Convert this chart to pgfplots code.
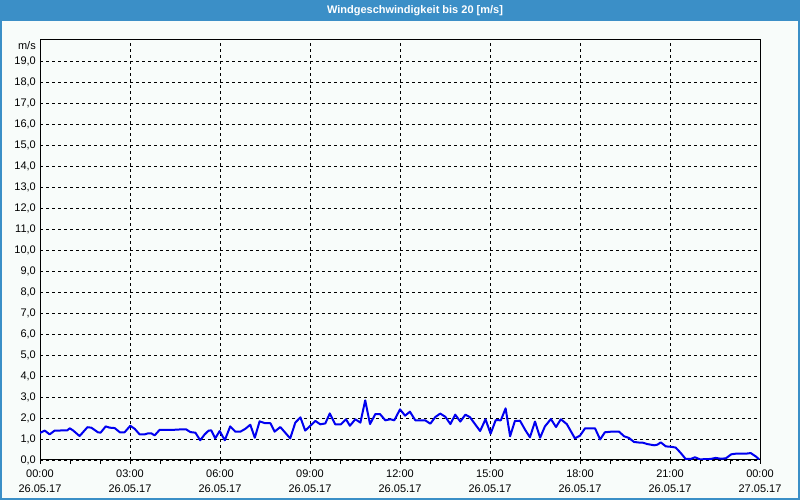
\documentclass[border=0pt]{standalone}
\usepackage{fontspec}
\setmainfont{Liberation Sans}
\usepackage{pgfplots}
\pgfplotsset{compat=1.18}
\definecolor{titleblue}{RGB}{59,143,199}
\definecolor{bgc}{RGB}{248,252,250}
\definecolor{lineblue}{RGB}{0,0,240}
\begin{document}
\begin{tikzpicture}[x=1bp,y=1bp]
\useasboundingbox (0,0) rectangle (800,500);
\fill[bgc] (0,0) rectangle (800,500);
\fill[titleblue] (0,479) rectangle (800,500);
\draw[titleblue, line width=2bp] (1,480) -- (1,1) -- (799,1) -- (799,480);
\node[text=white, inner sep=0pt, font=\fontsize{11bp}{13bp}\selectfont\bfseries] at (415,489.5) {Windgeschwindigkeit bis 20 [m/s]};
\node[anchor=east, inner sep=0pt, font=\fontsize{11bp}{13bp}\selectfont] at (36,454) {m/s};
\begin{axis}[
  at={(40bp,40bp)}, anchor=south west,
  scale only axis, width=720bp, height=420bp,
  xmin=0, xmax=24, ymin=0, ymax=20,
  axis line style={black, line width=1bp},
  grid=major,
  major grid style={black, dash pattern=on 3bp off 3bp, line width=0.8bp},
  tick align=outside, tickpos=left,
  major tick length=4bp, minor tick length=4bp,
  xtick={0,3,...,24},
  minor xtick={1,2,4,5,7,8,10,11,13,14,16,17,19,20,22,23},
  xtick style={black, line width=0.8bp},
  minor x tick style={black, line width=0.8bp},
  xticklabels={{00:00\\26.05.17},{03:00\\26.05.17},{06:00\\26.05.17},{09:00\\26.05.17},{12:00\\26.05.17},{15:00\\26.05.17},{18:00\\26.05.17},{21:00\\26.05.17},{00:00\\27.05.17}},
  xticklabel style={align=center, inner sep=0pt, yshift=-6bp, font=\fontsize{11bp}{15bp}\selectfont},
  ytick={0,1,...,19},
  ytick style={draw=none},
  yticklabel style={inner sep=0pt, font=\fontsize{11bp}{13bp}\selectfont, /pgf/number format/.cd, fixed, fixed zerofill, precision=1, use comma, assume math mode=true},
]
\addplot[lineblue, line width=2bp, mark=none, line join=round] coordinates {
(0,1.29) (0.16,1.40) (0.32,1.22) (0.49,1.40) (0.91,1.41) (0.99,1.51) (1.10,1.41) (1.32,1.14)
(1.58,1.56) (1.71,1.54) (1.93,1.32) (2.02,1.30) (2.19,1.60) (2.32,1.54) (2.49,1.52) (2.66,1.32)
(2.82,1.32) (3.01,1.63) (3.16,1.48) (3.32,1.22) (3.49,1.22) (3.60,1.27) (3.71,1.27) (3.82,1.17)
(3.99,1.44) (4.49,1.44) (4.73,1.46) (4.87,1.46) (5.01,1.33) (5.18,1.30) (5.34,0.94) (5.49,1.22)
(5.62,1.40) (5.71,1.41) (5.84,1.03) (5.99,1.38) (6.16,0.94) (6.34,1.60) (6.51,1.35) (6.68,1.35)
(6.84,1.48) (7.01,1.68) (7.16,1.06) (7.32,1.84) (7.51,1.75) (7.68,1.75) (7.82,1.35) (8.01,1.57)
(8.18,1.29) (8.34,1.03) (8.51,1.78) (8.68,2.03) (8.84,1.40) (9.01,1.63) (9.18,1.86) (9.34,1.70)
(9.51,1.74) (9.66,2.22) (9.84,1.70) (10.03,1.70) (10.20,1.94) (10.33,1.63) (10.51,1.94) (10.68,1.78)
(10.84,2.84) (11.00,1.71) (11.18,2.19) (11.33,2.19) (11.51,1.89) (11.68,1.94) (11.81,1.89) (12.00,2.41)
(12.17,2.11) (12.33,2.30) (12.51,1.89) (12.84,1.89) (13.01,1.73) (13.18,2.05) (13.34,2.21) (13.51,2.06)
(13.68,1.71) (13.84,2.16) (14.01,1.83) (14.18,2.16) (14.33,2.04) (14.50,1.71) (14.67,1.38) (14.85,1.94)
(15.02,1.25) (15.19,1.90) (15.36,1.89) (15.52,2.46) (15.67,1.13) (15.83,1.86) (16.00,1.87) (16.17,1.44)
(16.33,1.08) (16.50,1.83) (16.67,1.06) (16.83,1.60) (17.03,1.95) (17.20,1.57) (17.36,1.94) (17.56,1.71)
(17.83,1.03) (18.00,1.16) (18.17,1.51) (18.50,1.51) (18.67,0.98) (18.83,1.32) (19.05,1.35) (19.30,1.35)
(19.47,1.13) (19.63,1.05) (19.80,0.86) (19.97,0.83) (20.08,0.83) (20.24,0.76) (20.47,0.70) (20.58,0.73)
(20.69,0.84) (20.86,0.65) (21.08,0.62) (21.19,0.59) (21.36,0.33) (21.52,0.05) (21.69,0.05) (21.83,0.13)
(22.00,0.03) (22.36,0.05) (22.52,0.10) (22.69,0.06) (22.86,0.08) (23.04,0.27) (23.19,0.30) (23.52,0.30)
(23.69,0.33) (23.86,0.17) (23.97,0.03)
};
\end{axis}
\end{tikzpicture}
\end{document}
